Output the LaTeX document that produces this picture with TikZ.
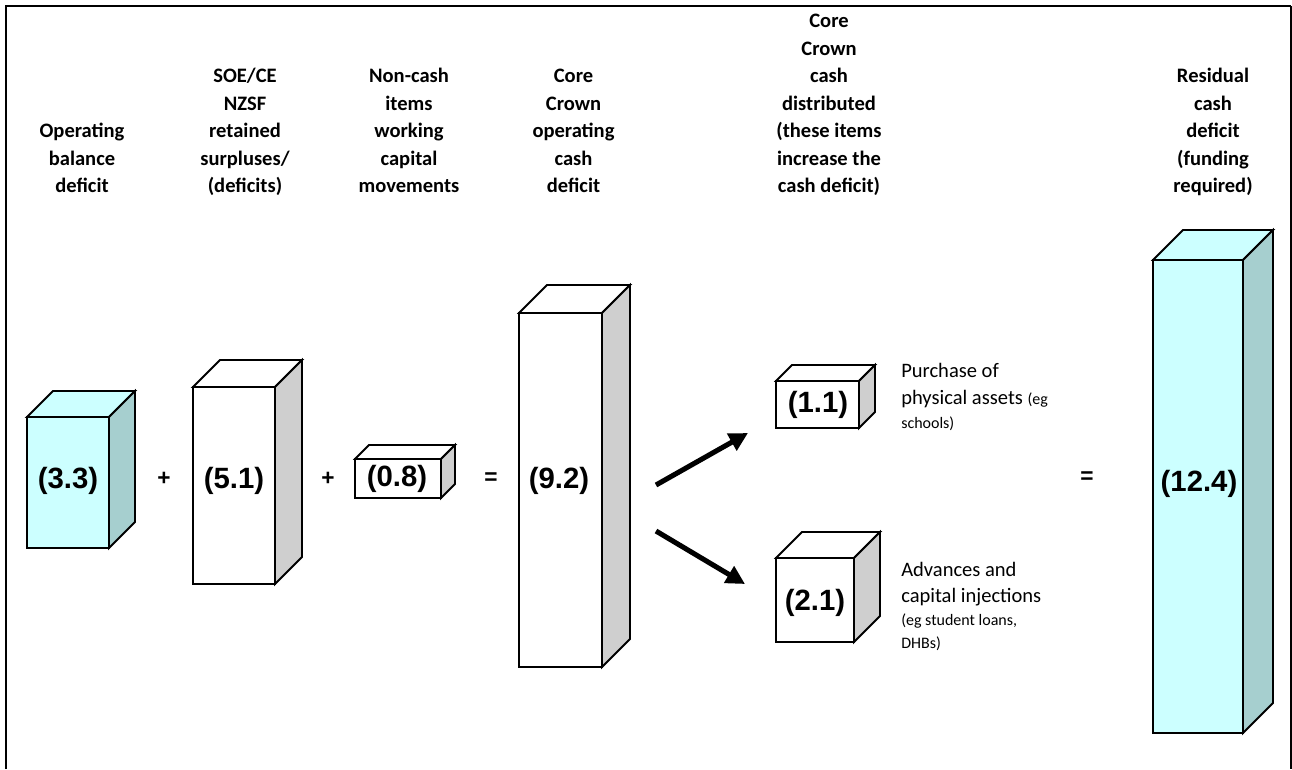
\documentclass[tikz,border=0pt]{standalone}
\usepackage{fontspec}
\setmainfont{Carlito}
\newfontfamily\numfont{Liberation Sans}
\usetikzlibrary{arrows.meta}

\definecolor{cyanfront}{HTML}{CCFFFF}
\definecolor{cyanside}{HTML}{A6CFCF}
\definecolor{greyside}{HTML}{CFCFCF}

% A 3-D bar: #1 name, (#2,#3)-(#4,#5) front face, #6 depth, #7 front/top fill, #8 side fill
\newcommand\crownbox[8]{%
  \node[boxedge, draw, fill=#7, inner sep=0pt, outer sep=0pt, anchor=north west,
        minimum width={(#4-#2)*0.75pt}, minimum height={(#5-#3)*0.75pt}] (#1) at (#2,#3) {};
  \draw[boxedge, fill=#7] (#2,#3) -- (#2+#6,#3-#6) -- (#4+#6,#3-#6) -- (#4,#3) -- cycle;
  \draw[boxedge, fill=#8] (#4,#3) -- (#4+#6,#3-#6) -- (#4+#6,#5-#6) -- (#4,#5) -- cycle;
}

\tikzset{
  boxedge/.style={line width=1.4pt, draw=black},
  header/.style={font=\bfseries\fontsize{15.4}{20.6}\selectfont, align=center, anchor=south, inner sep=0pt},
  amount/.style={font=\numfont\bfseries\fontsize{22}{26}\selectfont, inner sep=0pt},
  operator/.style={font=\numfont\bfseries\fontsize{17}{20}\selectfont, inner sep=0pt},
  note/.style={font=\fontsize{15.4}{18}\selectfont, anchor=base west, inner sep=0pt},
  smallnote/.style={font=\fontsize{12}{14}\selectfont, anchor=base west, inner sep=0pt},
  flowarrow/.style={line width=3.8pt, -{Triangle[length=14pt,width=14pt]}},
}

\newcommand\lastline{\rule[-5pt]{0pt}{5pt}}

\begin{document}
\begin{tikzpicture}[x=0.75pt, y=-0.75pt]
  \useasboundingbox (0,0) rectangle (1292,769);

  % frame
  \draw[line width=2.2pt] (6,769) -- (6,6) -- (1291,6);
  \draw[line width=0.8pt] (1291,6) -- (1291,769);

  % column headings
  \node[header] (h1) at (82,199.7) {Operating\\balance\\deficit\lastline};
  \node[header] (h2) at (245,199.7) {SOE/CE\\NZSF\\retained\\surpluses/\\(deficits)\lastline};
  \node[header] (h3) at (409,199.7) {Non-cash\\items\\working\\capital\\movements\lastline};
  \node[header] (h4) at (573.5,199.7) {Core\\Crown\\operating\\cash\\deficit\lastline};
  \node[header] (h5) at (829,199.7) {Core\\Crown\\cash\\distributed\\(these items\\increase the\\cash deficit)\lastline};
  \node[header] (h6) at (1213,199.7) {Residual\\cash\\deficit\\(funding\\required)\lastline};

  % bars
  \crownbox{b33}{27}{417}{109}{548}{26}{cyanfront}{cyanside}
  \crownbox{b51}{193}{387}{275}{584}{27}{white}{greyside}
  \crownbox{b08}{355}{459}{441}{498}{14}{white}{greyside}
  \crownbox{b92}{519}{313}{602}{667}{28}{white}{greyside}
  \crownbox{b11}{776}{381}{859}{428}{16}{white}{greyside}
  \crownbox{b21}{776}{558}{854}{642}{26}{white}{greyside}
  \crownbox{b124}{1153}{260}{1243}{733}{30}{cyanfront}{cyanside}

  % amounts
  \node[amount] (v33) at (68,481) {(3.3)};
  \node[amount] (v51) at (234,481) {(5.1)};
  \node[amount] (v08) at (397,479) {(0.8)};
  \node[amount] (v92) at (559,481) {(9.2)};
  \node[amount] (v11) at (818,405) {(1.1)};
  \node[amount] (v21) at (815,603) {(2.1)};
  \node[amount] (v124) at (1199,484) {(12.4)};

  % operators
  \node[operator] (op1) at (164,479) {+};
  \node[operator] (op2) at (328,479) {+};
  \node[operator] (op3) at (491,479) {=};
  \node[operator] (op4) at (1087,478) {=};

  % split of the operating cash deficit
  \coordinate (a1s) at (656,485);
  \coordinate (a1e) at (748,433);
  \coordinate (a2s) at (656,531);
  \coordinate (a2e) at (745,584);
  \draw[flowarrow] (a1s) -- (a1e);
  \draw[flowarrow] (a2s) -- (a2e);

  % descriptions
  \node[note] (n1a) at (901,377) {Purchase of};
  \node[note] (n1b) at (901,404) {physical assets {\fontsize{12}{14}\selectfont(eg}};
  \node[smallnote] (n1c) at (901,428) {schools)};
  \node[note] (n2a) at (901,576) {Advances and};
  \node[note] (n2b) at (901,602) {capital injections};
  \node[smallnote] (n2c) at (901,625) {(eg student loans,};
  \node[smallnote] (n2d) at (901,648) {DHBs)};
\end{tikzpicture}
\end{document}
